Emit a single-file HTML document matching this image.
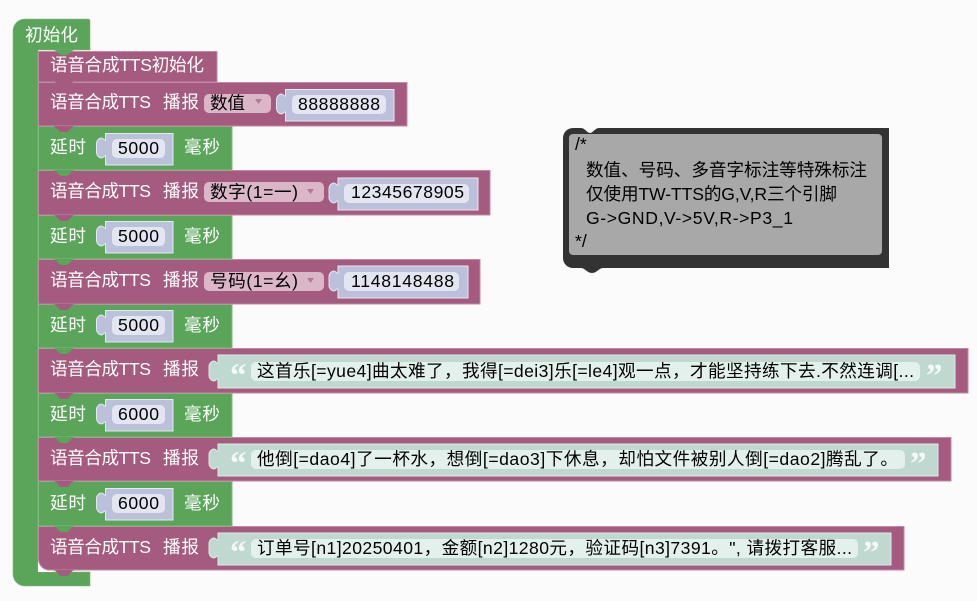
<!DOCTYPE html>
<html><head><meta charset="utf-8"><style>
html,body{margin:0;padding:0;background:#fbfbfb;width:977px;height:601px;overflow:hidden}
svg{display:block}
text{font-family:"Liberation Sans","Noto Sans CJK SC",sans-serif;font-size:17.6px;white-space:pre}
.w{fill:#fff}.k{fill:#000}
.p{fill:#a55b80;stroke:#c08aa6;stroke-width:1}
.g{fill:#5ba55b;stroke:#7fb97f;stroke-width:1}
.vi{fill:#bcc1db;stroke:#e6e8f2;stroke-width:1}
.vf{fill:#e3e6f0}
.ti{fill:#bfd9d0;stroke:#dcebe6;stroke-width:1}
.tf{fill:#e4f0ec}
.dd{fill:#dbb6c8}
.tri{fill:#b07a98}
.q{font-family:"Liberation Serif",serif;font-size:33px;font-weight:bold;fill:#f4f8f6}
</style></head><body>
<svg width="977" height="601" viewBox="0 0 977 601" xmlns="http://www.w3.org/2000/svg">
<rect width="977" height="601" fill="#fbfbfb"/>
<path d="M13 31a12 12 0 0 1 12-12h63a2 2 0 0 1 2 2v29H38V572h52v14H25a12 12 0 0 1-12-12z" fill="#5ba55b" stroke="#7fb97f" stroke-width=".6"/>
<path d="M38 556h14v16H38z" fill="#fff"/>

<!-- blocks -->
<path class="p" d="M38.500 526.500H904V570H50a11 11 0 0 1-11.500-11z"/>
<path class="g" d="M38.500 481.500H232V526H38.500z"/>
<path class="p" d="M38.500 437.500H951V481H38.500z"/>
<path class="g" d="M38.500 393.500H232V437H38.500z"/>
<path class="p" d="M38.500 348.500H968V393H38.500z"/>
<path class="g" d="M38.500 304.500H232V348H38.500z"/>
<path class="p" d="M38.500 259.500H480V304H38.500z"/>
<path class="g" d="M38.500 215.500H232V259H38.500z"/>
<path class="p" d="M38.500 170.500H490V215H38.500z"/>
<path class="g" d="M38.500 126.500H232V170H38.500z"/>
<path class="p" d="M38.500 82.500H407V126H38.500z"/>
<path class="p" d="M38.500 51.500H217V82H38.500z"/>

<!-- tabs -->
<g fill="#a55b80">
<path d="M53 81c4 1 5 6 9 6h4c4 0 5-5 9-6z"/>
<path d="M53 126c4 1 5 6 9 6h4c4 0 5-6 9-6z"/>
<path d="M53 215c4 0 5 6 9 6h4c4 0 5-6 9-6z"/>
<path d="M53 304c4 0 5 6 9 6h4c4 0 5-6 9-6z"/>
<path d="M53 393c4 0 5 6 9 6h4c4 0 5-6 9-6z"/>
<path d="M53 481c4 0 5 6 9 6h4c4 0 5-6 9-6z"/>
<path d="M53 570c4 0 5 6 9 6h4c4 0 5-6 9-6z"/>
</g>
<g fill="#5ba55b">
<path d="M53 170c4 0 5 6 9 6h4c4 0 5-6 9-6z"/>
<path d="M53 259c4 0 5 6 9 6h4c4 0 5-6 9-6z"/>
<path d="M53 348c4 0 5 6 9 6h4c4 0 5-6 9-6z"/>
<path d="M53 437c4 0 5 6 9 6h4c4 0 5-6 9-6z"/>
<path d="M53 526c4 0 5 6 9 6h4c4 0 5-6 9-6z"/>
<path d="M53 50c4 0 5 5 9 5h4c4 0 5-5 9-5z"/>
</g>

<!-- delay inputs -->
<g>
<path class="vi" d="M105.500 133.500H173V165H105.500V156c-1-1-2 2-4 2s-5-2-5-6v-8c0-4 3-6 5-6s3 3 4 2z"/><rect class="vf" x="112" y="139" width="53" height="19" rx="5"/>
<path class="vi" d="M105.500 221.500H173V253H105.500V244c-1-1-2 2-4 2s-5-2-5-6v-8c0-4 3-6 5-6s3 3 4 2z"/><rect class="vf" x="112" y="227" width="53" height="19" rx="5"/>
<path class="vi" d="M105.500 310.500H173V342H105.500V333c-1-1-2 2-4 2s-5-2-5-6v-8c0-4 3-6 5-6s3 3 4 2z"/><rect class="vf" x="112" y="316" width="53" height="19" rx="5"/>
<path class="vi" d="M105.500 399.500H173V431H105.500V422c-1-1-2 2-4 2s-5-2-5-6v-8c0-4 3-6 5-6s3 3 4 2z"/><rect class="vf" x="112" y="405" width="53" height="19" rx="5"/>
<path class="vi" d="M105.500 488.500H173V520H105.500V511c-1-1-2 2-4 2s-5-2-5-6v-8c0-4 3-6 5-6s3 3 4 2z"/><rect class="vf" x="112" y="494" width="53" height="19" rx="5"/>
</g>

<!-- dropdowns + number inputs -->
<rect class="dd" x="204" y="94" width="67" height="19" rx="5"/>
<path class="tri" d="M255 99h7l-3.500 5z"/>
<path class="vi" d="M285.500 89.500H394V121H285.500V112c-1-1-2 2-4 2s-5-2-5-6v-8c0-4 3-6 5-6s3 3 4 2z"/><rect class="vf" x="292" y="95" width="94" height="19" rx="5"/>

<rect class="dd" x="204" y="182" width="120" height="20" rx="5"/>
<path class="tri" d="M307 189h7l-3.500 5z"/>
<path class="vi" d="M338 178H478V210H338V201c-1-1-2 2-4 2s-5-2-5-6v-8c0-4 3-6 5-6s3 3 4 2z"/><rect class="vf" x="344" y="184" width="125" height="19" rx="5"/>

<rect class="dd" x="204" y="272" width="120" height="19" rx="5"/>
<path class="tri" d="M307 278h7l-3.500 5z"/>
<path class="vi" d="M338 266H468V298H338V289c-1-1-2 2-4 2s-5-2-5-6v-8c0-4 3-6 5-6s3 3 4 2z"/><rect class="vf" x="344" y="272" width="115" height="19" rx="5"/>

<!-- text inputs -->
<path class="ti" d="M218 355H955V388H218V379c-1-1-2 2-4 2s-5-2-5-6v-8c0-4 3-6 5-6s3 3 4 2z"/><rect class="tf" x="251" y="362" width="669" height="19" rx="5"/>
<path class="ti" d="M218 444H938V476H218V467c-1-1-2 2-4 2s-5-2-5-6v-8c0-4 3-6 5-6s3 3 4 2z"/><rect class="tf" x="251" y="450" width="654" height="19" rx="5"/>
<path class="ti" d="M218 533H891V565H218V556c-1-1-2 2-4 2s-5-2-5-6v-8c0-4 3-6 5-6s3 3 4 2z"/><rect class="tf" x="251" y="539" width="607" height="19" rx="5"/>

<!-- quotes -->
<text class="q" x="230" y="386">“</text><text class="q" x="926" y="386">”</text>
<text class="q" x="230" y="474">“</text><text class="q" x="910" y="474">”</text>
<text class="q" x="230" y="563">“</text><text class="q" x="863" y="563">”</text>

<!-- white labels -->
<text class="w" x="25" y="41" textLength="53">初始化</text>
<text class="w" x="50" y="71" textLength="154">语音合成TTS初始化</text>
<text class="w" x="50" y="108" textLength="101">语音合成TTS</text><text class="w" x="163" y="108" textLength="36">播报</text>
<text class="w" x="50" y="153" textLength="36">延时</text><text class="w" x="184" y="153" textLength="36">毫秒</text>
<text class="w" x="50" y="197" textLength="101">语音合成TTS</text><text class="w" x="163" y="197" textLength="36">播报</text>
<text class="w" x="50" y="242" textLength="36">延时</text><text class="w" x="184" y="242" textLength="36">毫秒</text>
<text class="w" x="50" y="286" textLength="101">语音合成TTS</text><text class="w" x="163" y="286" textLength="36">播报</text>
<text class="w" x="50" y="331" textLength="36">延时</text><text class="w" x="184" y="331" textLength="36">毫秒</text>
<text class="w" x="50" y="375" textLength="101">语音合成TTS</text><text class="w" x="163" y="375" textLength="36">播报</text>
<text class="w" x="50" y="420" textLength="36">延时</text><text class="w" x="184" y="420" textLength="36">毫秒</text>
<text class="w" x="50" y="464" textLength="101">语音合成TTS</text><text class="w" x="163" y="464" textLength="36">播报</text>
<text class="w" x="50" y="509" textLength="36">延时</text><text class="w" x="184" y="509" textLength="36">毫秒</text>
<text class="w" x="50" y="553" textLength="101">语音合成TTS</text><text class="w" x="163" y="553" textLength="36">播报</text>

<!-- dark labels -->
<g class="k">
<text x="210" y="109" textLength="35">数值</text>
<text x="298" y="110" textLength="82">88888888</text>
<text x="210" y="198" textLength="88">数字(1=一)</text>
<text x="351" y="198" textLength="113">12345678905</text>
<text x="210" y="287" textLength="88">号码(1=幺)</text>
<text x="351" y="287" textLength="103">1148148488</text>
<text x="118" y="154" textLength="41">5000</text>
<text x="118" y="242" textLength="41">5000</text>
<text x="118" y="331" textLength="41">5000</text>
<text x="118" y="420" textLength="41">6000</text>
<text x="118" y="509" textLength="41">6000</text>
<text x="257" y="377" textLength="657">这首乐[=yue4]曲太难了，我得[=dei3]乐[=le4]观一点，才能坚持练下去.不然连调[...</text>
<text x="257" y="465" textLength="641">他倒[=dao4]了一杯水，想倒[=dao3]下休息，却怕文件被别人倒[=dao2]腾乱了。</text>
<text x="257" y="554" textLength="595">订单号[n1]20250401，金额[n2]1280元，验证码[n3]7391。", 请拨打客服...</text>
</g>

<!-- comment -->
<path d="M563 138a10 10 0 0 1 10-10h8c4 0 6 5 9 5s5-5 9-5H889V268H603c-4 0-6 5-11 5s-7-5-11-5h-8a10 10 0 0 1-10-10z" fill="#333"/>
<rect x="569" y="134" width="313" height="121" rx="4" fill="#a8a8a8"/>
<g class="k">
<text x="575" y="150">/*</text>
<text x="586" y="176" textLength="281">数值、号码、多音字标注等特殊标注</text>
<text x="586" y="200" textLength="251">仅使用TW-TTS的G,V,R三个引脚</text>
<text x="586" y="224" textLength="207">G-&gt;GND,V-&gt;5V,R-&gt;P3_1</text>
<text x="575" y="247">*/</text>
</g>
</svg>
</body></html>
